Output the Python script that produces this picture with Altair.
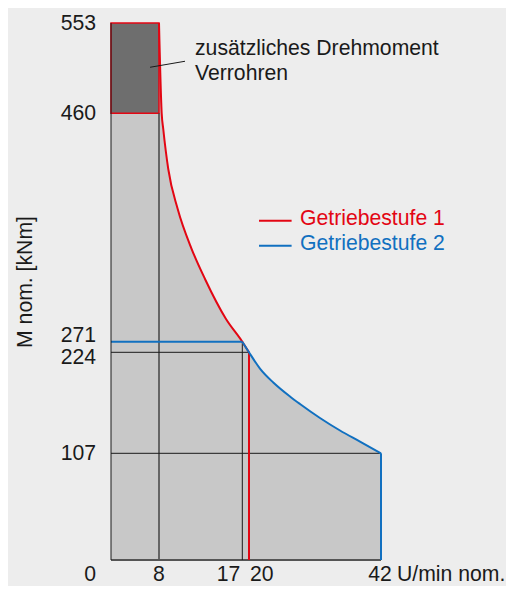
import altair as alt
import pandas as pd

FONT = "Liberation Sans"
FS = 21.2
INK = "#1a1a1a"
RED = "#e30613"
BLUE = "#1170c0"

# ---- axis ticks (schematic, piecewise axes) ----
X_TICKS = [0, 8, 17, 20, 42]
Y_TICKS = [553, 460, 271, 224, 107]

# ---- curves (n in U/min, M in kNm) ----
red_n = [8, 8.29, 8.46, 9.0, 10.02, 11.53, 12.97, 15.24, 17, 20]
red_m = [553, 460, 447, 413.9, 380.8, 347.7, 322.9, 289.8, 271, 224]

blue_n = [17, 20, 21.83, 24.05, 26.83, 28.5, 31.83, 35.17, 38.5, 42]
blue_m = [271, 224, 205.2, 189.0, 172.8, 164.1, 147.9, 133.4, 120.6, 107]

# extra torque block (Verrohren)
block = {"x": [0], "x2": [8], "y": [460], "y2": [553]}

# reference lines
black_rules = {"x": [17, 0, 0], "x2": [17, 20, 42], "y": [0, 224, 107], "y2": [271, 224, 107]}
gray_rules = {"x": [8], "x2": [8], "y": [0], "y2": [460]}
base_rule = {"x": [0], "x2": [42], "y": [0], "y2": [0]}
yaxis_rule = {"x": [0], "x2": [0], "y": [0], "y2": [553]}
red_rules = {"x": [20], "x2": [20], "y": [0], "y2": [224]}
blue_rules = {"x": [0, 42], "x2": [17, 42], "y": [271, 0], "y2": [271, 107]}

# annotation
note_lines = ["zusätzliches Drehmoment", "Verrohren"]
note_x = [11.89, 11.89]
note_y = [520.4, 494.3]
leader = {"x": [6.51], "x2": [10.81], "y": [507.4], "y2": [513.6]}

# legend
legend_labels = ["Getriebestufe 1", "Getriebestufe 2"]
legend_colors = [RED, BLUE]
legend_line_x = [21.67, 21.67]
legend_line_x2 = [27.1, 27.1]
legend_line_y = [371.1, 350.4]
legend_text_x = [28.5, 28.5]
legend_text_y = [367.6, 347.1]

X_AXIS_TITLE = "U/min nom."
Y_AXIS_TITLE = "M nom. [kNm]"
Y_TITLE_AT = 320.4  # vertical centre of the rotated axis title, in kNm

xs = alt.Scale(domain=[0, 8, 17, 20, 42], range=[0, 48, 131.3, 138, 270])
ys = alt.Scale(domain=[0, 107, 224, 271, 460, 553],
               range=[537, 430.3, 329.3, 318.7, 90.3, 0])


def X(field="x"):
    return alt.X(f"{field}:Q", scale=xs, axis=None)


def Y(field="y"):
    return alt.Y(f"{field}:Q", scale=ys, axis=None)


# ---- filled operating area ----
area_df = pd.DataFrame({"x": [0] + red_n[:-1] + blue_n,
                        "y": [553] + red_m[:-1] + blue_m})
area = alt.Chart(area_df).mark_area(color="#c8c8c8", interpolate="monotone").encode(
    x=alt.X("x:Q", scale=xs,
            axis=alt.Axis(values=X_TICKS, labels=False, domain=False, grid=False,
                          ticks=True, tickSize=6, tickColor=INK, tickWidth=1,
                          title=None)),
    y=alt.Y("y:Q", scale=ys,
            axis=alt.Axis(values=Y_TICKS + [0], labels=False, domain=False, grid=False,
                          ticks=True, tickSize=8, tickColor=INK, tickWidth=1,
                          title=None)),
    y2=alt.datum(0),
)

rect = alt.Chart(pd.DataFrame(block)).mark_rect(
    color="#6e6e6e", stroke=RED, strokeWidth=1.5
).encode(x=X(), x2="x2:Q", y=Y(), y2="y2:Q")


def rules(d, color, width):
    return alt.Chart(pd.DataFrame(d)).mark_rule(color=color, strokeWidth=width).encode(
        x=X(), x2="x2:Q", y=Y(), y2="y2:Q")


red_curve = alt.Chart(pd.DataFrame({"x": red_n, "y": red_m})).mark_line(
    color=RED, strokeWidth=2, interpolate="monotone").encode(x=X(), y=Y())
blue_curve = alt.Chart(pd.DataFrame({"x": blue_n, "y": blue_m})).mark_line(
    color=BLUE, strokeWidth=2, interpolate="monotone").encode(x=X(), y=Y())


def texts(df, align, dx, dy, color=INK, angle=0):
    kw = dict(font=FONT, fontSize=FS, align=align, baseline="alphabetic",
              dx=dx, dy=dy, color=color)
    if angle:
        kw["angle"] = angle
    return alt.Chart(df).mark_text(**kw).encode(x=X(), y=Y(), text="t:N")


xl = pd.DataFrame({"x": X_TICKS, "y": [0] * len(X_TICKS), "t": [str(v) for v in X_TICKS]})
yl = pd.DataFrame({"x": [0] * len(Y_TICKS), "y": Y_TICKS, "t": [str(v) for v in Y_TICKS]})

LDY = 21
x_labels = [
    texts(xl[xl.x.isin([0])], "right", -15, LDY),
    texts(xl[xl.x.isin([17])], "right", -2, LDY),
    texts(xl[xl.x.isin([20])], "left", 1, LDY),
    texts(xl[xl.x.isin([8])], "center", 0, LDY),
    texts(xl[xl.x.isin([42])], "center", -1, LDY),
]
y_labels = [
    texts(yl[yl.y.isin([553, 460, 107])], "right", -15, 7),
    texts(yl[yl.y.isin([271])], "right", -15, 0.5),
    texts(yl[yl.y.isin([224])], "right", -15, 12),
]
x_title = texts(pd.DataFrame({"x": [42], "y": [0], "t": [X_AXIS_TITLE]}), "left", 16, LDY)
y_title = texts(pd.DataFrame({"x": [0], "y": [Y_TITLE_AT], "t": [Y_AXIS_TITLE]}),
                "center", 0, -79, angle=270)

note = texts(pd.DataFrame({"x": note_x, "y": note_y, "t": note_lines}), "left", 0, 0)
leader_line = rules(leader, INK, 1)

leg_df = pd.DataFrame({"x": legend_line_x, "x2": legend_line_x2, "y": legend_line_y,
                       "tx": legend_text_x, "ty": legend_text_y,
                       "t": legend_labels, "c": legend_colors})
leg_lines = alt.Chart(leg_df).mark_rule(strokeWidth=2).encode(
    x=X(), x2="x2:Q", y=Y(), color=alt.Color("c:N", scale=None))
leg_text = alt.Chart(leg_df).mark_text(
    font=FONT, fontSize=FS, align="left", baseline="alphabetic"
).encode(x=X("tx"), y=Y("ty"), text="t:N", color=alt.Color("c:N", scale=None))

chart = alt.layer(
    area, rect,
    rules(gray_rules, "#444444", 1.5),
    rules(base_rule, "#555555", 2),
    rules(black_rules, INK, 1),
    red_curve, rules(red_rules, RED, 2),
    blue_curve, rules(blue_rules, BLUE, 2),
    rules(yaxis_rule, INK, 1),
    leader_line, note, leg_lines, leg_text, x_title, y_title,
    *x_labels, *y_labels,
).properties(
    width=395, height=537,
    autosize=alt.AutoSizeParams(type="none"),
    padding={"left": 103, "top": 15, "right": 0, "bottom": 26},
    background="#ededed",
).configure_view(stroke=None)

chart.save("out.html", embed_options={"renderer": "svg", "actions": False})
